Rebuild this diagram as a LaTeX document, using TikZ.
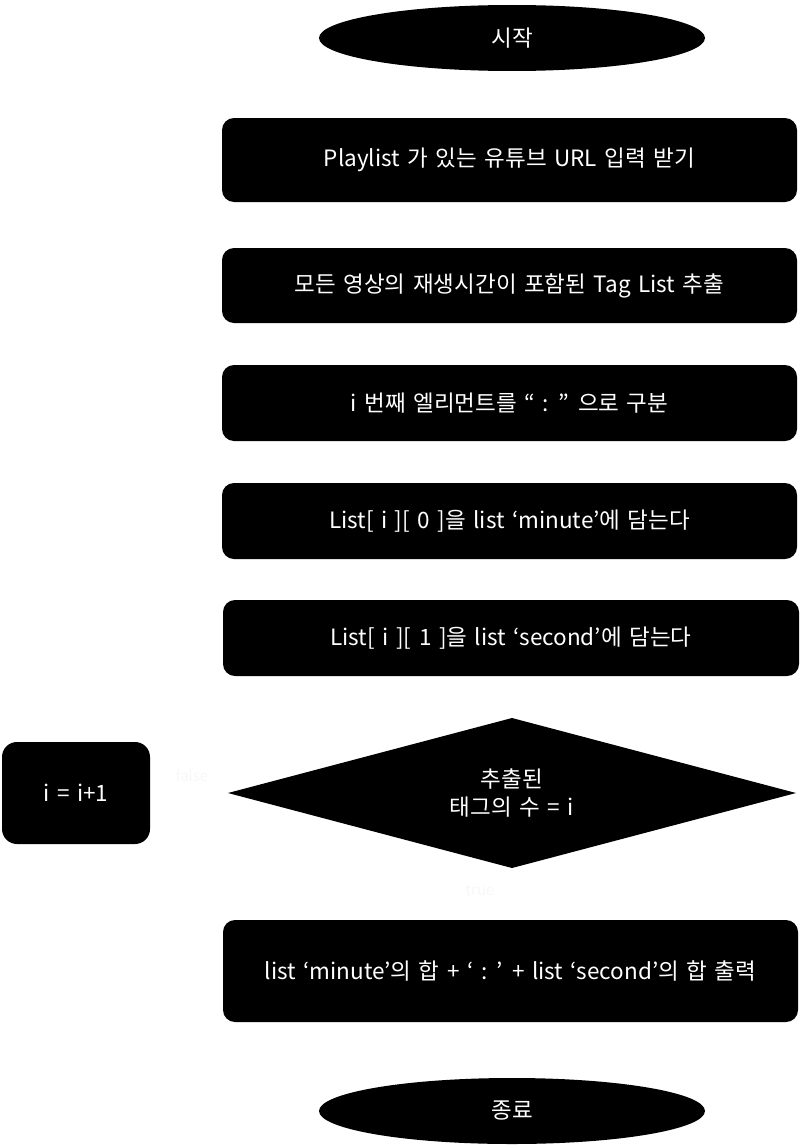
\documentclass[tikz,border=0pt]{standalone}
\usepackage{fontspec}
\setmainfont{Noto Sans CJK KR}[WordSpace=1.5]
\usetikzlibrary{shapes.geometric}
\begin{document}
\begin{tikzpicture}[x=1pt,y=-1pt,
  proc/.style={draw=none,fill=black,text=white,rounded corners=12pt,inner sep=0pt,font=\fontsize{22.5}{27}\selectfont},
  term/.style={ellipse,draw=none,fill=black,text=white,inner sep=0pt,font=\fontsize{22.5}{27}\selectfont},
  faint/.style={text=black!3,font=\fontsize{15}{18}\selectfont}]
\useasboundingbox (0,0) rectangle (805,1148);
\node[term,minimum width=386pt,minimum height=66pt] (start) at (512,38) {시작};
\node[proc,minimum width=575pt,minimum height=84pt] (b1) at (509.5,160) {Playlist 가 있는 유튜브 URL 입력 받기};
\node[proc,minimum width=575pt,minimum height=75pt] (b2) at (509.5,285.5) {모든 영상의 재생시간이 포함된 Tag List 추출};
\node[proc,minimum width=575pt,minimum height=76pt] (b3) at (509.5,403) {i 번째 엘리먼트를 “ : ” 으로 구분};
\node[proc,minimum width=575pt,minimum height=76pt] (b4) at (509.5,521) {List[ i ][ 0 ]을 list ‘minute’에 담는다};
\node[proc,minimum width=576pt,minimum height=76pt] (b5) at (511,638) {List[ i ][ 1 ]을 list ‘second’에 담는다};
\fill[black] (228,793) -- (512,718) -- (796,793) -- (512,868) -- cycle;
\node[align=center,text=white,font=\fontsize{22.5}{28}\selectfont] (dec) at (512,793) {추출된\\태그의 수 = i};
\node[proc,rounded corners=15pt,minimum width=148pt,minimum height=102pt] (inc) at (76,793) {i = i+1};
\node[faint] (lf) at (192,776) {false};
\node[faint] (lt) at (480,890) {true};
\node[proc,minimum width=575pt,minimum height=102pt] (b6) at (510.5,971) {list ‘minute’의 합 + ‘ : ’ + list ‘second’의 합 출력};
\node[term,minimum width=386pt,minimum height=66pt] (end) at (512,1111) {종료};
\end{tikzpicture}
\end{document}
